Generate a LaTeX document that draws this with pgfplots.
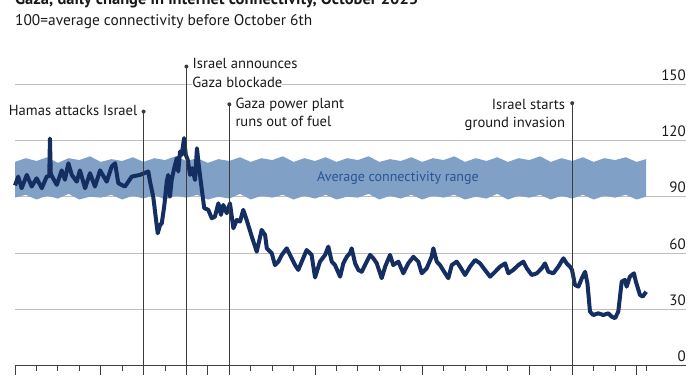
\documentclass[border=0pt]{standalone}
\usepackage{pgfplots}
\pgfplotsset{compat=1.18}
\usepackage{pgfplotstable}
\usepgfplotslibrary{fillbetween}
\usepackage{fontspec}
\setmainfont{PT Sans}
\definecolor{navy}{RGB}{20,46,98}
\definecolor{bandcol}{RGB}{128,160,198}
\definecolor{bandtxt}{RGB}{40,85,150}
\definecolor{gridc}{RGB}{190,190,190}
\definecolor{txt}{RGB}{25,25,25}
\definecolor{evc}{RGB}{60,60,60}

\pgfplotstableread{
x y
0.00 96
0.15 100.7
0.31 94.5
0.55 101.6
0.78 95.4
1.01 99.8
1.25 94.5
1.48 100.7
1.60 101
1.63 121
1.67 102
1.95 96.3
2.18 104
2.33 99
2.49 107.8
2.65 101.6
2.88 98
3.03 104
3.27 94.5
3.50 102.5
3.73 95.4
3.97 104
4.28 98
4.51 106
4.67 107.8
4.82 97.2
5.13 95.4
5.45 100.7
5.83 101.6
6.22 103.4
6.30 98
6.45 90
6.61 75
6.66 70.5
6.77 75
6.85 75.9
6.97 85.6
7.08 98
7.15 101.6
7.23 90
7.31 98.9
7.43 105.2
7.55 110.5
7.62 103.4
7.70 114
7.78 112.3
7.89 121.2
7.97 112.3
8.06 109.6
8.17 101.6
8.27 105.2
8.40 98.9
8.49 115.8
8.59 105.2
8.74 91.8
8.83 83.9
9.02 83
9.18 78.5
9.33 79.4
9.49 86.5
9.61 80.3
9.72 85.6
9.88 81.2
10.03 86.5
10.19 73.2
10.35 77.6
10.50 76.7
10.65 83
10.81 77.6
11.05 68.7
11.28 60.7
11.51 72.3
11.67 69.6
11.75 62.5
11.98 59.9
12.13 53.6
12.29 55.4
12.45 59
12.68 62.5
12.83 59
13.07 53.6
13.22 51
13.38 55.4
13.61 61.6
13.84 59
14.00 47
14.23 55.4
14.47 59
14.62 63.4
14.78 55.4
14.93 53.6
15.17 47.4
15.32 54.5
15.48 58
15.63 59.9
15.71 62.5
15.87 54.5
16.02 51
16.18 50
16.41 55.4
16.57 59
16.72 57.2
16.88 54.5
17.11 46.6
17.27 52.7
17.50 59
17.65 53.6
17.89 55.4
18.12 49.2
18.35 54.5
18.59 58
18.82 55.4
18.98 49.2
19.21 51.9
19.44 58
19.52 62.5
19.68 55.4
19.83 53.6
20.07 49.2
20.22 46.6
20.38 53.6
20.61 55.4
20.77 52.7
21.00 48.3
21.23 52.7
21.47 56.3
21.70 54.5
21.93 51
22.17 47.4
22.40 50
22.63 52.7
22.87 54.5
23.02 49.2
23.25 51
23.49 53.6
23.72 55.4
23.88 51.9
24.11 48.3
24.35 49.2
24.58 51.9
24.73 54.5
24.89 50
25.12 49.2
25.35 52.7
25.59 57.2
25.74 54.5
25.90 52.7
25.99 51
26.13 43
26.29 42.1
26.45 46.6
26.60 50
26.71 43.9
26.83 28.8
26.98 27
27.22 27.9
27.45 27
27.69 27.9
27.84 26.1
28.00 25.3
28.15 28.8
28.31 44.8
28.46 45.7
28.54 42.1
28.69 47.4
28.88 49.2
28.97 44.8
29.16 37.7
29.29 36.8
29.45 39.4
}\linedata

\pgfplotstableread{
x y
0 108.5
0.5 110.5
1 109
1.5 111
2 108
2.5 110.5
3 109.5
3.5 111.5
4 108.5
4.5 110
5 109
5.5 111
6 108.5
6.5 110.5
7 109.5
7.5 111.5
8 109
8.5 110.5
9 108
9.5 110
10 109
10.5 111
11 108.5
11.5 110.5
12 109.5
12.5 111.5
13 108.5
13.5 110.5
14 109
14.5 111
15 108.5
15.5 110.5
16 109.5
16.5 111.5
17 108.5
17.5 110
18 109
18.5 111
19 108.5
19.5 110.5
20 109.5
20.5 111.5
21 108.5
21.5 110.5
22 109
22.5 111
23 108.5
23.5 110.5
24 109.5
24.5 111.5
25 108.5
25.5 110.5
26 109
26.5 111
27 108.5
27.5 110.5
28 109.5
28.5 111
29 108.5
29.45 110
}\bandup

\pgfplotstableread{
x y
0 89.5
0.5 91
1 88.5
1.5 90.5
2 89
2.5 91.5
3 88.5
3.5 90
4 89.5
4.5 91
5 88.5
5.5 90.5
6 89
6.5 91
7 88.5
7.5 90.5
8 89.5
8.5 91
9 88.5
9.5 90
10 89
10.5 91.5
11 88.5
11.5 90.5
12 89.5
12.5 91
13 88.5
13.5 90.5
14 89
14.5 91
15 88.5
15.5 90
16 89.5
16.5 91.5
17 88.5
17.5 90.5
18 89
18.5 91
19 88.5
19.5 90.5
20 89.5
20.5 91
21 88.5
21.5 90
22 89
22.5 91.5
23 88.5
23.5 90.5
24 89.5
24.5 91
25 88.5
25.5 90.5
26 89
26.5 91
27 88.5
27.5 90.5
28 89.5
28.5 91
29 88.5
29.45 90
}\bandlo

\begin{document}
\begin{tikzpicture}
\path (0pt,0pt) rectangle (700pt,-375pt);
\begin{axis}[
  at={(15pt,-365.7pt)}, anchor=south west,
  scale only axis, width=671pt, height=281.7pt,
  xmin=0, xmax=31.31, ymin=0, ymax=150,
  clip=false,
  axis x line*=bottom, axis y line*=right,
  y axis line style={draw=none},
  x axis line style={draw=black!75, line width=0.9pt},
  ytick={0,30,60,90,120,150},
  ymajorgrids, grid style={gridc, line width=0.8pt},
  y tick style={draw=none},
  yticklabel pos=right,
  yticklabel style={anchor=base east, inner sep=0pt, xshift=0pt, yshift=4pt, font=\fontsize{15}{15}\selectfont, text=txt},
  /pgf/number format/assume math mode=true,
  xtick={1,2,3,5,6,7,8,10,11,12,13,15,16,17,18,20,21,22,23,25,26,27,28,29.45},
  xticklabels={},
  xtick align=outside,
  major tick length=5pt,
  x tick style={black!75, line width=0.9pt},
  extra x ticks={0,4,9,14,19,24,29},
  extra x tick labels={},
  extra x tick style={major tick length=9pt},
]
\addplot[name path=up, draw=none, forget plot] table[x=x,y=y] {\bandup};
\addplot[name path=lo, draw=none, forget plot] table[x=x,y=y] {\bandlo};
\addplot[fill=bandcol, draw=none] fill between[of=up and lo];
\node[text=bandtxt, font=\fontsize{14}{14}\selectfont] at (axis cs:17.87,100) {Average connectivity range};
\addplot[navy, line width=4pt, line join=round] table[x=x,y=y] {\linedata};

% events
\draw[evc, line width=0.7pt] (axis cs:6,-4.9) -- (axis cs:6,135.3);
\fill[evc] (axis cs:6,135.3) circle (2pt);
\node[anchor=base east, text=txt, font=\fontsize{14.6}{14.6}\selectfont, inner sep=0pt] at ([xshift=-6pt]axis cs:6,133) {Hamas attacks Israel};

\draw[evc, line width=0.7pt] (axis cs:8,-4.9) -- (axis cs:8,159.3);
\fill[evc] (axis cs:8,159.3) circle (2pt);
\node[anchor=base west, text=txt, font=\fontsize{14.6}{14.6}\selectfont, inner sep=0pt] at ([xshift=6pt]axis cs:8,158.4) {Israel announces};
\node[anchor=base west, text=txt, font=\fontsize{14.6}{14.6}\selectfont, fill=white, inner xsep=0pt, inner ysep=1pt, outer sep=0pt] at ([xshift=6pt]axis cs:8,148.3) {Gaza blockade\hspace{3pt}};

\draw[evc, line width=0.7pt] (axis cs:10,-4.9) -- (axis cs:10,139.2);
\fill[evc] (axis cs:10,139.2) circle (2pt);
\node[anchor=base west, text=txt, font=\fontsize{14.6}{14.6}\selectfont, inner sep=0pt] at ([xshift=6pt]axis cs:10,137.1) {Gaza power plant};
\node[anchor=base west, text=txt, font=\fontsize{14.6}{14.6}\selectfont, inner sep=0pt] at ([xshift=6pt]axis cs:10,127.3) {runs out of fuel};

\draw[evc, line width=0.7pt] (axis cs:26,-4.9) -- (axis cs:26,139.8);
\fill[evc] (axis cs:26,139.8) circle (2pt);
\node[anchor=base east, text=txt, font=\fontsize{14.6}{14.6}\selectfont, inner sep=0pt] at ([xshift=-7pt]axis cs:26,136.2) {Israel starts};
\node[anchor=base east, text=txt, font=\fontsize{14.6}{14.6}\selectfont, inner sep=0pt] at ([xshift=-7pt]axis cs:26,126.6) {ground invasion};

% titles
\node[overlay, anchor=base west, text=txt, font=\bfseries\fontsize{16.5}{16.5}\selectfont, inner sep=0pt] at (axis cs:0,192.1) {Gaza, daily change in internet connectivity, October 2023};
\node[anchor=base west, text=txt, font=\fontsize{15.4}{15.4}\selectfont, inner sep=0pt] at (axis cs:0,181.0) {100=average connectivity before October 6th};
\end{axis}
\end{tikzpicture}
\end{document}
